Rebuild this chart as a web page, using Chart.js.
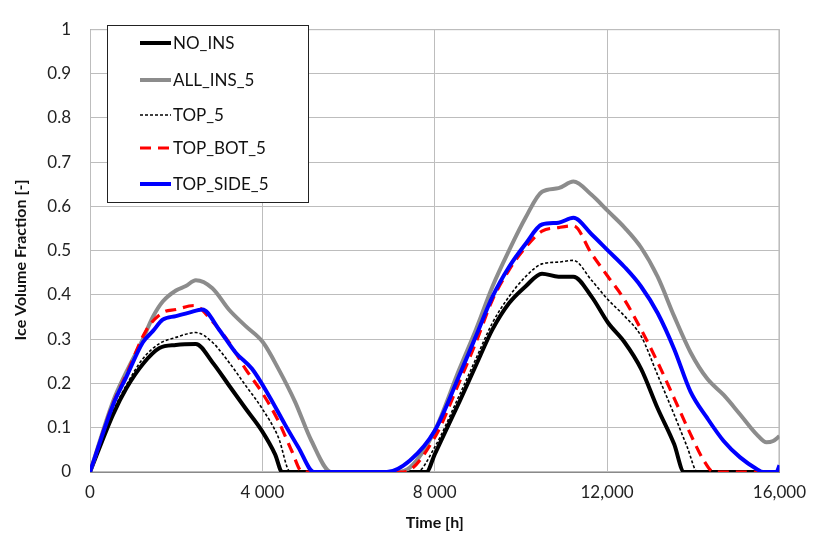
<!DOCTYPE html>
<html>
<head>
<meta charset="utf-8">
<script src="https://cdn.jsdelivr.net/npm/chart.js@4.4.1/dist/chart.umd.min.js"></script>
<style>
  body { margin: 0; background: #fff; }
  canvas { display: block; }
</style>
</head>
<body>
<canvas id="iceChart" width="816" height="538"></canvas>
<script>
// Series (time in hours, ice volume fraction)
const seriesLabels = ['NO_INS', 'ALL_INS_5', 'TOP_5', 'TOP_BOT_5', 'TOP_SIDE_5'];

const noInsX = [0, 537, 844, 1228, 1612, 1995, 2456, 2840, 3223, 3607, 3990, 4296, 4460, 7808, 8000, 8575, 8958, 9341, 9724, 10107, 10490, 10874, 11218, 11640, 12023, 12406, 12789, 13173, 13556, 13786, 16000];
const noInsY = [0, 0.13, 0.189, 0.244, 0.28, 0.287, 0.289, 0.248, 0.196, 0.144, 0.093, 0.04, 0, 0, 0.04, 0.159, 0.241, 0.322, 0.381, 0.419, 0.448, 0.441, 0.441, 0.396, 0.337, 0.293, 0.233, 0.144, 0.063, 0, 0];

const allInsX = [0, 537, 844, 1228, 1458, 1688, 1995, 2225, 2456, 2840, 3223, 3607, 4014, 4373, 4757, 5141, 5601, 7100, 7425, 8000, 8575, 8958, 9341, 9724, 10107, 10490, 10874, 11218, 11640, 12023, 12406, 12789, 13173, 13556, 13939, 14322, 14705, 15088, 15471, 15701, 15854, 16000];
const allInsY = [0, 0.16, 0.226, 0.30, 0.35, 0.385, 0.41, 0.42, 0.433, 0.415, 0.367, 0.33, 0.293, 0.233, 0.159, 0.07, 0, 0, 0.01, 0.093, 0.233, 0.322, 0.419, 0.5, 0.574, 0.633, 0.641, 0.656, 0.626, 0.589, 0.552, 0.507, 0.441, 0.352, 0.27, 0.211, 0.174, 0.13, 0.085, 0.067, 0.07, 0.081];

const topX = [0, 537, 844, 1228, 1612, 1995, 2456, 2840, 3223, 3607, 3990, 4373, 4650, 7578, 8000, 8575, 8958, 9341, 9724, 10107, 10490, 10874, 11218, 11640, 12023, 12406, 12789, 13173, 13556, 13862, 14100, 16000];
const topY = [0, 0.137, 0.196, 0.256, 0.29, 0.304, 0.315, 0.293, 0.248, 0.196, 0.144, 0.078, 0, 0, 0.056, 0.174, 0.256, 0.337, 0.396, 0.441, 0.47, 0.474, 0.478, 0.433, 0.389, 0.352, 0.307, 0.219, 0.13, 0.056, 0, 0];

const topBotX = [0, 537, 844, 1305, 1688, 1995, 2418, 2840, 3223, 3607, 3990, 4373, 4680, 4930, 7272, 8000, 8575, 8958, 9341, 9724, 10107, 10490, 10874, 11218, 11640, 12023, 12406, 12789, 13173, 13556, 13939, 14245, 14475, 16000];
const topBotY = [0, 0.155, 0.22, 0.32, 0.36, 0.367, 0.376, 0.34, 0.293, 0.233, 0.18, 0.115, 0.048, 0, 0, 0.078, 0.204, 0.293, 0.389, 0.456, 0.507, 0.544, 0.552, 0.556, 0.493, 0.441, 0.389, 0.322, 0.248, 0.167, 0.085, 0.026, 0, 0];

const topSideX = [0, 537, 844, 1228, 1458, 1688, 1995, 2302, 2609, 2993, 3377, 3760, 4143, 4527, 4834, 5200, 6889, 7425, 8000, 8575, 8958, 9341, 9724, 10107, 10490, 10874, 11218, 11640, 12023, 12406, 12789, 13173, 13556, 13939, 14322, 14705, 15088, 15471, 15625, 15931, 16000];
const topSideY = [0, 0.152, 0.215, 0.293, 0.318, 0.344, 0.352, 0.36, 0.367, 0.322, 0.27, 0.233, 0.174, 0.107, 0.056, 0, 0, 0.026, 0.093, 0.219, 0.307, 0.396, 0.463, 0.515, 0.559, 0.563, 0.574, 0.537, 0.5, 0.463, 0.419, 0.359, 0.278, 0.181, 0.122, 0.07, 0.033, 0.007, 0, 0, 0.015];

// Tick labels as printed on the original axes
const xTickValues = [0, 4000, 8000, 12000, 16000];
const xTickLabels = ['0', '4 000', '8 000', '12,000', '16,000'];
const yTickLabels = ['0', '0.1', '0.2', '0.3', '0.4', '0.5', '0.6', '0.7', '0.8', '0.9', '1'];

function toPoints(xs, ys) {
    return xs.map((x, i) => ({ x: x, y: ys[i] }));
}

const FONT = 'Lato, "Open Sans", sans-serif';

// Legend box drawn inside the plot area, like the original
const insideLegend = {
    id: 'insideLegend',
    afterDraw(chart) {
        const ctx = chart.ctx;
        const rowsY = [43, 80, 115, 148, 184];
        ctx.save();
        ctx.fillStyle = '#fff';
        ctx.fillRect(107, 25, 201, 177);
        ctx.strokeStyle = '#222';
        ctx.lineWidth = 1;
        ctx.strokeRect(107.5, 25.5, 201, 177);
        chart.data.datasets.forEach((ds, i) => {
            const y = rowsY[i];
            ctx.beginPath();
            ctx.strokeStyle = ds.borderColor;
            ctx.lineWidth = ds.borderWidth;
            ctx.setLineDash(ds.borderDash || []);
            ctx.moveTo(140, y);
            ctx.lineTo(171, y);
            ctx.stroke();
            ctx.setLineDash([]);
            ctx.fillStyle = '#111';
            ctx.font = '17px ' + FONT;
            ctx.textBaseline = 'middle';
            ctx.fillText(ds.label, 173, y + 1);
        });
        ctx.restore();
    }
};

// Rotated y axis title
const yTitle = {
    id: 'yTitle',
    afterDraw(chart) {
        const ctx = chart.ctx;
        ctx.save();
        ctx.translate(21, 260);
        ctx.rotate(-Math.PI / 2);
        ctx.font = 'bold 16px ' + FONT;
        ctx.fillStyle = '#111';
        ctx.textAlign = 'center';
        ctx.textBaseline = 'middle';
        ctx.fillText('Ice Volume Fraction [-]', 0, 0);
        ctx.restore();
    }
};

// right and top frame of the plot area
const frame = {
    id: 'frame',
    beforeDatasetsDraw(chart) {
        const a = chart.chartArea;
        const ctx = chart.ctx;
        ctx.save();
        ctx.strokeStyle = '#bdbdbd';
        ctx.lineWidth = 1;
        ctx.strokeRect(a.left + 0.5, a.top + 0.5, a.right - a.left - 1, a.bottom - a.top - 1);
        ctx.restore();
    }
};

const styles = [
    { color: '#000000', width: 4, dash: [] },
    { color: '#8c8c8c', width: 4, dash: [] },
    { color: '#000000', width: 1.6, dash: [3, 2] },
    { color: '#ff0000', width: 3.2, dash: [11, 7] },
    { color: '#0000ff', width: 4, dash: [] }
];
const seriesData = [
    toPoints(noInsX, noInsY),
    toPoints(allInsX, allInsY),
    toPoints(topX, topY),
    toPoints(topBotX, topBotY),
    toPoints(topSideX, topSideY)
];

const datasets = seriesLabels.map((label, i) => ({
    label: label,
    data: seriesData[i],
    borderColor: styles[i].color,
    borderWidth: styles[i].width,
    borderDash: styles[i].dash,
    pointRadius: 0,
    fill: false,
    cubicInterpolationMode: 'monotone',
    order: seriesLabels.length - i
}));

new Chart(document.getElementById('iceChart'), {
    type: 'line',
    data: { datasets: datasets },
    options: {
        responsive: false,
        animation: false,
        devicePixelRatio: 1,
        layout: { padding: { top: 20, right: 30, left: 0, bottom: 0 } },
        plugins: {
            legend: { display: false },
            tooltip: { enabled: false }
        },
        scales: {
            x: {
                type: 'linear',
                min: 0,
                max: 16000,
                afterBuildTicks: (scale) => {
                    scale.ticks = xTickValues.map(v => ({ value: v }));
                },
                afterFit: (scale) => { scale.height = 66; },
                ticks: {
                    callback: (v) => xTickLabels[xTickValues.indexOf(v)],
                    font: { family: FONT, size: 17 },
                    color: '#222',
                    padding: 10,
                    maxRotation: 0
                },
                grid: { color: '#bdbdbd', drawTicks: false },
                border: { color: '#8a8a8a' },
                title: {
                    display: true,
                    text: 'Time [h]',
                    font: { family: FONT, size: 16, weight: 'bold' },
                    color: '#111',
                    padding: { top: 0, bottom: 6 }
                }
            },
            y: {
                min: 0,
                max: 1,
                afterFit: (scale) => { scale.width = 90; },
                ticks: {
                    stepSize: 0.1,
                    callback: (v, i) => yTickLabels[i],
                    font: { family: FONT, size: 17 },
                    color: '#222',
                    padding: 19
                },
                grid: { color: '#bdbdbd', drawTicks: false },
                border: { color: '#8a8a8a' }
            }
        }
    },
    plugins: [frame, insideLegend, yTitle]
});
</script>
</body>
</html>
